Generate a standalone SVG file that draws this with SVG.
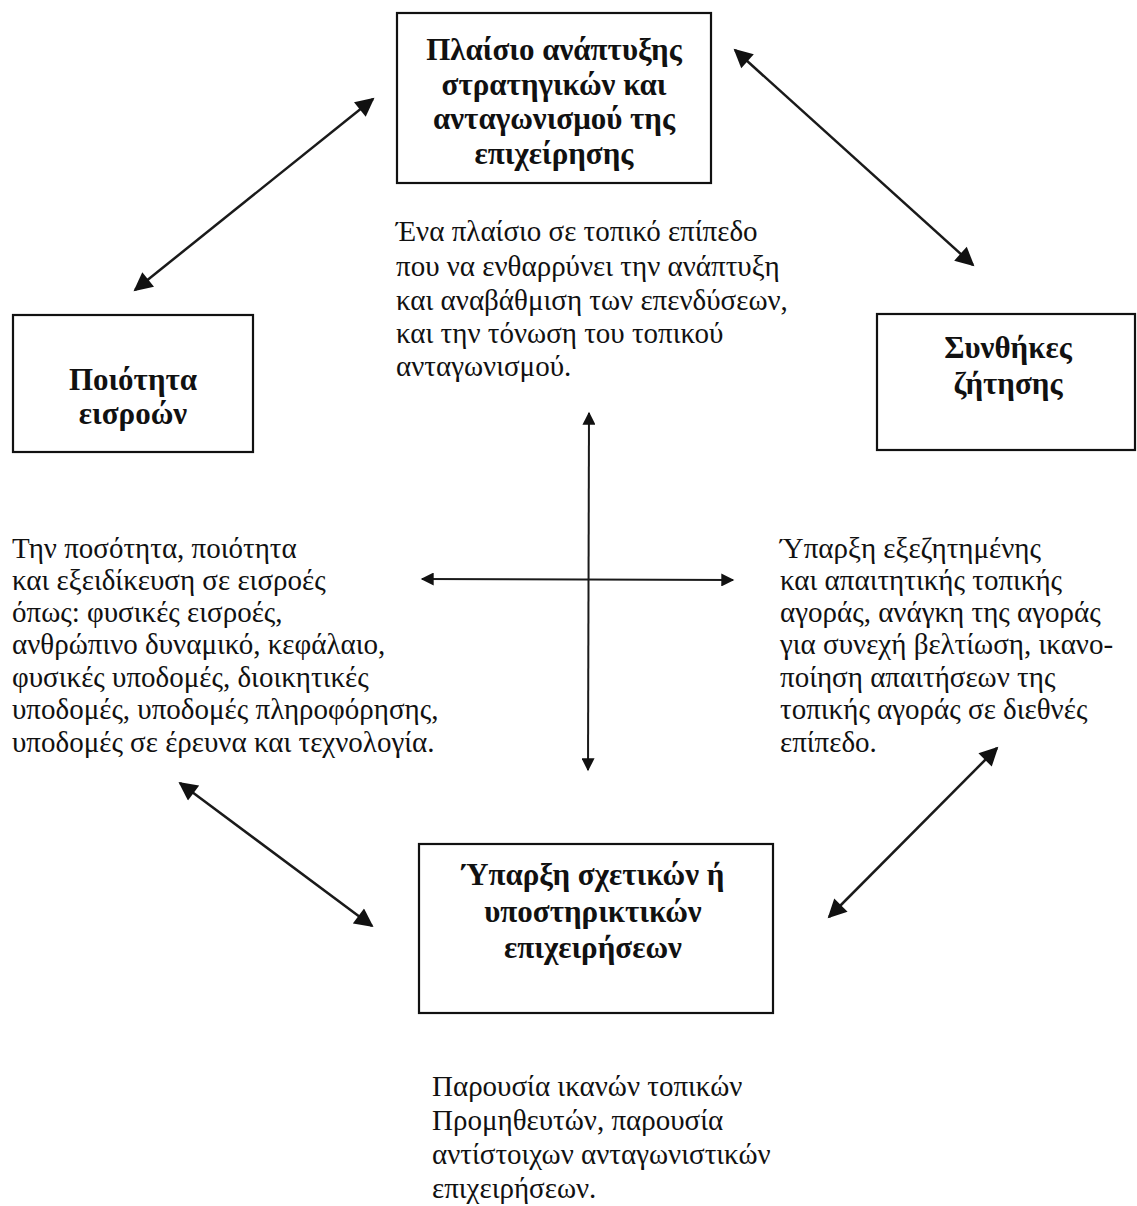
<svg xmlns="http://www.w3.org/2000/svg" width="1137" height="1206" viewBox="0 0 1137 1206">
<style>
.box{fill:#fff;stroke:#111;stroke-width:2.2}
.bt{font-family:"Liberation Serif","DejaVu Serif",serif;font-weight:bold;font-size:31px;fill:#111;text-anchor:middle}
.tx{font-family:"Liberation Serif","DejaVu Serif",serif;font-size:29px;fill:#111}
.ln{stroke:#1a1a1a;stroke-width:2.5;fill:none}
.cx{stroke:#1a1a1a;stroke-width:2;fill:none}
</style>
<defs>
<marker id="ah" viewBox="0 0 10 10" refX="9" refY="5" markerWidth="8" markerHeight="7.5" markerUnits="strokeWidth" orient="auto-start-reverse">
<path d="M0,0 L10,5 L0,10 z" fill="#111"/>
</marker>
<marker id="ah2" viewBox="0 0 10 10" refX="9" refY="5" markerWidth="7" markerHeight="6.5" markerUnits="strokeWidth" orient="auto-start-reverse">
<path d="M0,0 L10,5 L0,10 z" fill="#111"/>
</marker>
</defs>
<rect width="1137" height="1206" fill="#fff"/>

<g id="connectors">
<line class="ln" x1="135" y1="290" x2="373" y2="99" marker-start="url(#ah)" marker-end="url(#ah)"/>
<line class="ln" x1="735" y1="50" x2="973" y2="265" marker-start="url(#ah)" marker-end="url(#ah)"/>
<line class="ln" x1="180" y1="783" x2="372" y2="926" marker-start="url(#ah)" marker-end="url(#ah)"/>
<line class="ln" x1="829" y1="917" x2="997" y2="748" marker-start="url(#ah)" marker-end="url(#ah)"/>
<line class="cx" x1="589" y1="413" x2="588" y2="770" marker-start="url(#ah2)" marker-end="url(#ah2)"/>
<line class="cx" x1="422" y1="579" x2="733" y2="580" marker-start="url(#ah2)" marker-end="url(#ah2)"/>
</g>

<g id="node-top">
<rect class="box" x="397" y="13" width="314" height="170"/>
<text class="bt" x="554" y="60">Πλαίσιο ανάπτυξης</text>
<text class="bt" x="554" y="95">στρατηγικών και</text>
<text class="bt" x="554" y="129">ανταγωνισμού της</text>
<text class="bt" x="554" y="164">επιχείρησης</text>
</g>

<g id="node-left">
<rect class="box" x="13" y="315" width="240" height="137"/>
<text class="bt" x="133" y="390">Ποιότητα</text>
<text class="bt" x="133" y="424">εισροών</text>
</g>

<g id="node-right">
<rect class="box" x="877" y="314" width="258" height="136"/>
<text class="bt" x="1008" y="358">Συνθήκες</text>
<text class="bt" x="1008" y="394">ζήτησης</text>
</g>

<g id="node-bottom">
<rect class="box" x="419" y="844" width="354" height="169"/>
<text class="bt" x="593" y="885">Ύπαρξη σχετικών ή</text>
<text class="bt" x="593" y="922">υποστηρικτικών</text>
<text class="bt" x="593" y="958">επιχειρήσεων</text>
</g>

<g id="text-top">
<text class="tx" x="396" y="241">Ένα πλαίσιο σε τοπικό επίπεδο</text>
<text class="tx" x="396" y="276">που να ενθαρρύνει την ανάπτυξη</text>
<text class="tx" x="396" y="310">και αναβάθμιση των επενδύσεων,</text>
<text class="tx" x="396" y="343">και την τόνωση του τοπικού</text>
<text class="tx" x="396" y="376">ανταγωνισμού.</text>
</g>

<g id="text-left">
<text class="tx" x="12" y="558">Την ποσότητα, ποιότητα</text>
<text class="tx" x="12" y="590">και εξειδίκευση σε εισροές</text>
<text class="tx" x="12" y="622">όπως: φυσικές εισροές,</text>
<text class="tx" x="12" y="654">ανθρώπινο δυναμικό, κεφάλαιο,</text>
<text class="tx" x="12" y="687">φυσικές υποδομές, διοικητικές</text>
<text class="tx" x="12" y="719">υποδομές, υποδομές πληροφόρησης,</text>
<text class="tx" x="12" y="752">υποδομές σε έρευνα και τεχνολογία.</text>
</g>

<g id="text-right">
<text class="tx" x="780" y="558">Ύπαρξη εξεζητημένης</text>
<text class="tx" x="780" y="590">και απαιτητικής τοπικής</text>
<text class="tx" x="780" y="622">αγοράς, ανάγκη της αγοράς</text>
<text class="tx" x="780" y="654">για συνεχή βελτίωση, ικανο-</text>
<text class="tx" x="780" y="687">ποίηση απαιτήσεων της</text>
<text class="tx" x="780" y="719">τοπικής αγοράς σε διεθνές</text>
<text class="tx" x="780" y="752">επίπεδο.</text>
</g>

<g id="text-bottom">
<text class="tx" x="432" y="1096">Παρουσία ικανών τοπικών</text>
<text class="tx" x="432" y="1130">Προμηθευτών, παρουσία</text>
<text class="tx" x="432" y="1164">αντίστοιχων ανταγωνιστικών</text>
<text class="tx" x="432" y="1198">επιχειρήσεων.</text>
</g>
</svg>
